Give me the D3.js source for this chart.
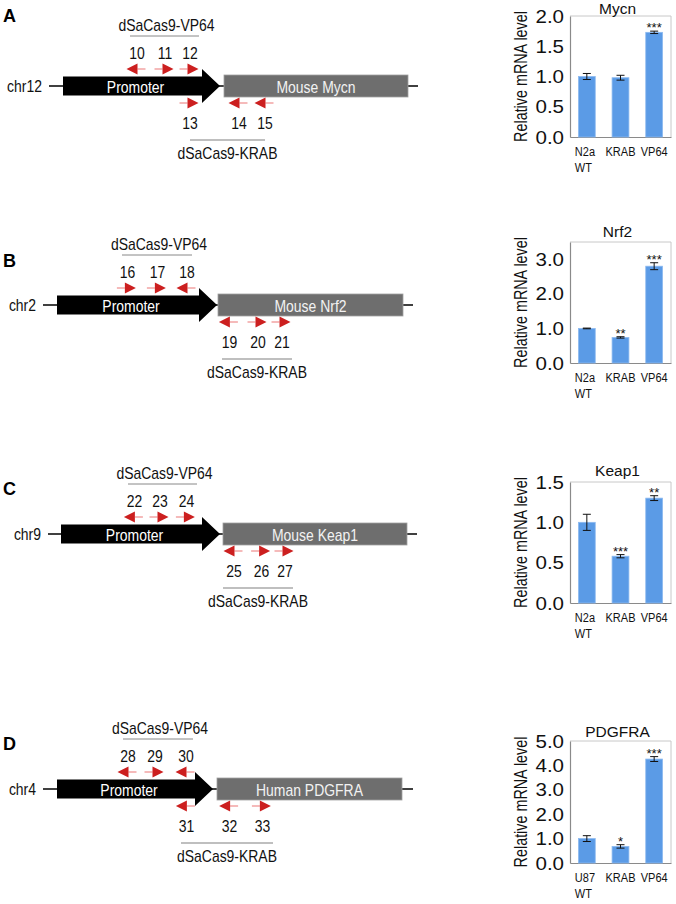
<!DOCTYPE html>
<html>
<head>
<meta charset="utf-8">
<script src="https://cdn.jsdelivr.net/npm/d3@7/dist/d3.min.js"></script>
<style>
  body { margin: 0; background: #fff; }
  svg { display: block; }
</style>
</head>
<body>
<svg id="fig" width="676" height="904"></svg>
<script>
// ---- qPCR bars (relative mRNA level, mean and error) ----
const mouseCats = ['N2a WT', 'KRAB', 'VP64'];
const humanCats = ['U87 WT', 'KRAB', 'VP64'];

const mycnValues = [1.00, 0.98, 1.73];
const mycnErrors = [0.05, 0.04, 0.02];
const mycnStars = ['', '', '***'];
const mycnTicks = [0, 0.5, 1.0, 1.5, 2.0];

const nrf2Values = [1.00, 0.74, 2.80];
const nrf2Errors = [0.01, 0.02, 0.10];
const nrf2Stars = ['', '**', '***'];
const nrf2Ticks = [0, 1, 2, 3];

const keap1Values = [1.00, 0.58, 1.30];
const keap1Errors = [0.10, 0.02, 0.03];
const keap1Stars = ['', '***', '**'];
const keap1Ticks = [0, 0.5, 1.0, 1.5];

const pdgfraValues = [1.00, 0.68, 4.26];
const pdgfraErrors = [0.12, 0.07, 0.10];
const pdgfraStars = ['', '*', '***'];
const pdgfraTicks = [0, 1, 2, 3, 4, 5];

// ---- loci: bp relative to TSS [chr start, promoter start, promoter end, gene end, chr end] ----
const mycnLocus = [-875, -805, -20, 920, 970];
const nrf2Locus = [-875, -805, -5, 925, 975];
const keap1Locus = [-875, -810, -15, 920, 970];
const pdgfraLocus = [-870, -800, -20, 925, 980];

// guide sites (bp of guide centre, strand)
const mycnVP64Ids = [10, 11, 12], mycnVP64Pos = [-440, -300, -175], mycnVP64Dir = [-1, 1, 1];
const mycnKRABIds = [13, 14, 15], mycnKRABPos = [-175, 70, 200], mycnKRABDir = [1, -1, -1];
const nrf2VP64Ids = [16, 17, 18], nrf2VP64Pos = [-458, -308, -160], nrf2VP64Dir = [1, 1, -1];
const nrf2KRABIds = [19, 20, 21], nrf2KRABPos = [52, 195, 315], nrf2KRABDir = [-1, 1, 1];
const keap1VP64Ids = [22, 23, 24], keap1VP64Pos = [-448, -320, -188], keap1VP64Dir = [-1, 1, 1];
const keap1KRABIds = [25, 26, 27], keap1KRABPos = [50, 188, 305], keap1KRABDir = [-1, 1, 1];
const pdgfraVP64Ids = [28, 29, 30], pdgfraVP64Pos = [-450, -315, -160], pdgfraVP64Dir = [-1, 1, -1];
const pdgfraKRABIds = [31, 32, 33], pdgfraKRABPos = [-158, 58, 222], pdgfraKRABDir = [-1, -1, 1];

// bracket spans (bp) for the two effector groups
const mycnSpans = [[-470, -125], [-170, 205]];
const nrf2Spans = [[-480, -130], [20, 370]];
const keap1Spans = [[-475, -130], [0, 350]];
const pdgfraSpans = [[-470, -120], [-180, 280]];

const panels = [
  { letter: 'A', letterY: 22, chr: 'chr12', gene: 'Mouse Mycn', title: 'Mycn', tssX: 224, cy: 86,
    locus: mycnLocus, spans: mycnSpans,
    vp64: [mycnVP64Ids, mycnVP64Pos, mycnVP64Dir], krab: [mycnKRABIds, mycnKRABPos, mycnKRABDir],
    cats: mouseCats, values: mycnValues, errors: mycnErrors, stars: mycnStars, ticks: mycnTicks,
    max: 2.0, top: 16, bottom: 137, titleY: 14 },
  { letter: 'B', letterY: 267, chr: 'chr2', gene: 'Mouse Nrf2', title: 'Nrf2', tssX: 218, cy: 305,
    locus: nrf2Locus, spans: nrf2Spans,
    vp64: [nrf2VP64Ids, nrf2VP64Pos, nrf2VP64Dir], krab: [nrf2KRABIds, nrf2KRABPos, nrf2KRABDir],
    cats: mouseCats, values: nrf2Values, errors: nrf2Errors, stars: nrf2Stars, ticks: nrf2Ticks,
    max: 3.5, top: 242, bottom: 363, titleY: 237 },
  { letter: 'C', letterY: 495, chr: 'chr9', gene: 'Mouse Keap1', title: 'Keap1', tssX: 223, cy: 534,
    locus: keap1Locus, spans: keap1Spans,
    vp64: [keap1VP64Ids, keap1VP64Pos, keap1VP64Dir], krab: [keap1KRABIds, keap1KRABPos, keap1KRABDir],
    cats: mouseCats, values: keap1Values, errors: keap1Errors, stars: keap1Stars, ticks: keap1Ticks,
    max: 1.5, top: 482, bottom: 603, titleY: 476 },
  { letter: 'D', letterY: 750, chr: 'chr4', gene: 'Human PDGFRA', title: 'PDGFRA', tssX: 217, cy: 789,
    locus: pdgfraLocus, spans: pdgfraSpans,
    vp64: [pdgfraVP64Ids, pdgfraVP64Pos, pdgfraVP64Dir], krab: [pdgfraKRABIds, pdgfraKRABPos, pdgfraKRABDir],
    cats: humanCats, values: pdgfraValues, errors: pdgfraErrors, stars: pdgfraStars, ticks: pdgfraTicks,
    max: 5.0, top: 741, bottom: 863, titleY: 737 },
];

const svg = d3.select('#fig');
const FONT = '"Liberation Sans", Arial, Helvetica, sans-serif';
const guideRed = '#cc1f1f';

// the figure's lettering is narrower than Arial; squeeze glyphs to match
function squeeze(sel, k) {
  sel.each(function () {
    const w = this.getComputedTextLength();
    d3.select(this).attr('textLength', w * k).attr('lengthAdjust', 'spacingAndGlyphs');
  });
}

function label(g, x, y, txt, size, anchor, fill) {
  return g.append('text')
    .attr('x', x).attr('y', y)
    .attr('text-anchor', anchor || 'middle')
    .attr('font-family', FONT)
    .attr('font-size', size + 'px')
    .attr('fill', fill || '#111')
    .text(txt);
}

function guideArrow(g, cx, y, dir) {
  const half = 9.5, head = 11;
  const tip = cx + dir * half;
  const tail = cx - dir * half;
  const base = tip - dir * head;
  g.append('line')
    .attr('x1', tail).attr('x2', base).attr('y1', y).attr('y2', y)
    .attr('stroke', '#ef8c8c').attr('stroke-width', 1.2);
  g.append('path')
    .attr('d', `M${base},${y - 5.5}L${tip},${y}L${base},${y + 5.5}Z`)
    .attr('fill', guideRed);
}

function drawLocus(p) {
  const g = svg.append('g').attr('class', 'locus');
  const x = d3.scaleLinear().domain([0, 1000]).range([p.tssX, p.tssX + 200]);
  const cy = p.cy;
  const [chrStart, promStart, promEnd, geneEnd, chrEnd] = p.locus;

  g.append('text')
    .attr('x', 3).attr('y', p.letterY)
    .attr('font-family', FONT).attr('font-size', '18px').attr('font-weight', 700)
    .attr('fill', '#000')
    .text(p.letter);

  g.append('line')
    .attr('x1', x(chrStart)).attr('x2', x(chrEnd))
    .attr('y1', cy).attr('y2', cy)
    .attr('stroke', '#000').attr('stroke-width', 1.5);

  squeeze(label(g, x(chrStart) - 7, cy + 6, p.chr, 17, 'end'), 0.82);

  // promoter block arrow
  const x0 = x(promStart), xt = x(promEnd), xh = xt - 18;
  g.append('path')
    .attr('d', `M${x0},${cy - 9.5}H${xh}V${cy - 17}L${xt},${cy}L${xh},${cy + 17}V${cy + 9.5}H${x0}Z`)
    .attr('fill', '#000');
  squeeze(label(g, (x0 + xh) / 2 + 3, cy + 6.5, 'Promoter', 17, 'middle', '#fff'), 0.82);

  // gene body
  g.append('rect')
    .attr('x', x(0)).attr('y', cy - 11)
    .attr('width', x(geneEnd) - x(0)).attr('height', 22)
    .attr('fill', '#6e6e6e').attr('stroke', '#a0a0a0').attr('stroke-width', 0.8);
  squeeze(label(g, (x(0) + x(geneEnd)) / 2, cy + 6.5, p.gene, 17, 'middle', '#f2f2f2'), 0.82);

  // activator guides above
  const [vIds, vPos, vDir] = p.vp64;
  vIds.forEach((id, i) => {
    guideArrow(g, x(vPos[i]), cy - 17, vDir[i]);
    squeeze(label(g, x(vPos[i]) + 1, cy - 27, id, 17), 0.82);
  });
  const [va, vb] = p.spans[0];
  g.append('line')
    .attr('x1', x(va)).attr('x2', x(vb)).attr('y1', cy - 50).attr('y2', cy - 50)
    .attr('stroke', '#888').attr('stroke-width', 1);
  squeeze(label(g, (x(va) + x(vb)) / 2 + 2, cy - 55, 'dSaCas9-VP64', 17), 0.82);

  // repressor guides below
  const [kIds, kPos, kDir] = p.krab;
  kIds.forEach((id, i) => {
    guideArrow(g, x(kPos[i]), cy + 17, kDir[i]);
    squeeze(label(g, x(kPos[i]) + 1, cy + 43, id, 17), 0.82);
  });
  const [ka, kb] = p.spans[1];
  g.append('line')
    .attr('x1', x(ka)).attr('x2', x(kb)).attr('y1', cy + 54).attr('y2', cy + 54)
    .attr('stroke', '#aaa').attr('stroke-width', 1.5);
  squeeze(label(g, (x(ka) + x(kb)) / 2, cy + 73, 'dSaCas9-KRAB', 17), 0.82);
}

function drawBars(p) {
  const g = svg.append('g').attr('class', 'bars');
  const left = 570, right = 671;
  const y = d3.scaleLinear().domain([0, p.max]).range([p.bottom, p.top]);
  const x = d3.scaleBand().domain(p.cats).range([left, right])
    .paddingInner(0.5).paddingOuter(0.25);

  // light frame on top and right
  g.append('path')
    .attr('d', `M${left},${p.top}H${right}V${p.bottom}`)
    .attr('fill', 'none').attr('stroke', '#c8c8c8').attr('stroke-width', 1);

  const yAxis = g.append('g')
    .attr('transform', `translate(${left},0)`)
    .call(d3.axisLeft(y).tickValues(p.ticks).tickFormat(d3.format('.1f'))
      .tickSize(0).tickPadding(6));
  yAxis.select('.domain').attr('stroke', '#8a8a8a').attr('stroke-width', 1.2);
  yAxis.selectAll('.tick text')
    .attr('font-family', FONT).attr('font-size', '19px').attr('fill', '#111')
    .call(squeeze, 1.08);

  const xAxis = g.append('g')
    .attr('transform', `translate(0,${p.bottom})`)
    .call(d3.axisBottom(x).tickSize(0).tickFormat(''));
  xAxis.select('.domain').attr('stroke', '#8a8a8a').attr('stroke-width', 1.2);

  g.selectAll('.bar')
    .data(p.cats)
    .join('rect')
    .attr('class', 'bar')
    .attr('x', c => x(c))
    .attr('width', x.bandwidth())
    .attr('y', (c, i) => y(p.values[i]))
    .attr('height', (c, i) => y(0) - y(p.values[i]))
    .attr('fill', '#5b9be6')
    .attr('stroke', '#8dbaf0')
    .attr('stroke-width', 0.8);

  p.cats.forEach((c, i) => {
    const cx = x(c) + x.bandwidth() / 2;
    const hi = y(p.values[i] + p.errors[i]);
    const lo = y(p.values[i] - p.errors[i]);
    g.append('path')
      .attr('d', `M${cx - 4},${hi}H${cx + 4}M${cx},${hi}V${lo}M${cx - 4},${lo}H${cx + 4}`)
      .attr('fill', 'none').attr('stroke', '#111').attr('stroke-width', 1);
    if (p.stars[i]) {
      label(g, cx, hi + 1, p.stars[i], 13);
    }
    const lines = c.split(' ');
    if (lines.length > 1) {
      lines.forEach((ln, j) => {
        squeeze(label(g, cx - 12, p.bottom + 19 + j * 16, ln, 12.5, 'start'), 0.88);
      });
    } else {
      squeeze(label(g, cx, p.bottom + 19, c, 12.5), 0.88);
    }
  });

  label(g, (left + right) / 2 - 3, p.titleY, p.title, 15.5);

  // y title: narrowed with a transform so its box stays honest
  label(g, 0, 0, 'Relative mRNA level', 17.5)
    .attr('transform', `translate(527,${(p.top + p.bottom) / 2}) rotate(-90) scale(0.82,1)`);
}

panels.forEach(p => {
  drawLocus(p);
  drawBars(p);
});
</script>
</body>
</html>
